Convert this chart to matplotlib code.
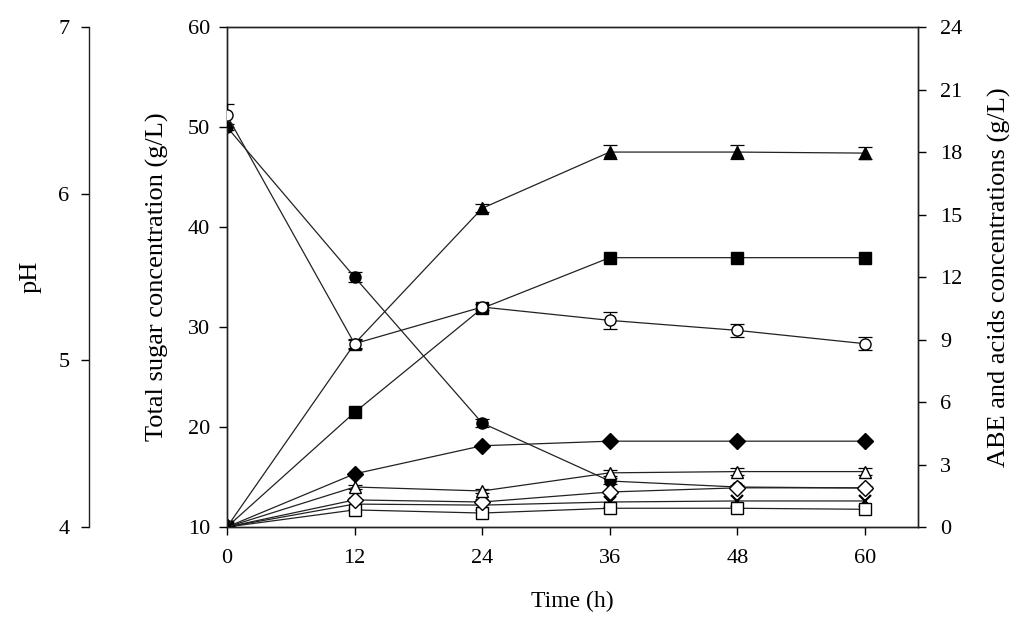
import numpy as np
import matplotlib
matplotlib.use("Agg")
import matplotlib.pyplot as plt

plt.rcParams['font.family'] = ['Liberation Serif', 'DejaVu Serif']

# sampling times (h)
time = [0, 12, 24, 36, 48, 60]

# left axis: total sugar (g/L), filled circles
sugar = [50.0, 35.0, 20.4, 14.6, 14.0, 13.9]
sugar_err = [0.3, 0.5, 0.4, 0.3, 0.2, 0.2]

# outer left axis: pH, open circles
ph = [6.47, 5.10, 5.32, 5.24, 5.18, 5.10]
ph_err = [0.07, 0.03, 0.02, 0.05, 0.04, 0.04]

# right axis: ABE and acids (g/L)
abe = [0, 8.8, 15.3, 18.0, 18.0, 17.95]
abe_err = [0, 0.2, 0.2, 0.35, 0.35, 0.3]
butanol = [0, 5.5, 10.5, 12.93, 12.93, 12.93]
acetone = [0, 2.55, 3.9, 4.12, 4.12, 4.12]
total_acids = [0, 1.92, 1.73, 2.6, 2.66, 2.66]
acids_err = [0, 0.1, 0.1, 0.15, 0.15, 0.15]
butyric = [0, 1.3, 1.2, 1.68, 1.88, 1.88]
acetic = [0, 1.1, 1.05, 1.2, 1.25, 1.25]
ethanol = [0, 0.82, 0.67, 0.9, 0.9, 0.85]

line_kw = dict(color='#222222', linewidth=0.9)
err_kw = dict(capsize=5, elinewidth=0.9, capthick=0.9, ecolor='black')

fig = plt.figure(figsize=(10.28, 6.3), dpi=100)
ax = fig.add_axes([0.2208, 0.1635, 0.6722, 0.7935])
ax_r = ax.twinx()
ax_ph = ax.twinx()

# sugar
ax.errorbar(time, sugar, yerr=sugar_err, marker='o', ms=8, mfc='black', mec='black',
            **err_kw, **line_kw)
ax.set_xlim(0, 65)
ax.set_ylim(10, 60)
ax.set_yticks(np.arange(10, 61, 10))
ax.set_xticks(time)
ax.set_xlabel('Time (h)', fontsize=17, labelpad=16)
ax.set_ylabel('Total sugar concentration (g/L)', fontsize=19, labelpad=14)

# ABE and acids
ax_r.plot(time, acetic, marker='x', ms=8, mec='black', mew=1.6, **line_kw)
ax_r.plot(time, ethanol, marker='s', ms=8.5, mfc='white', mec='black', **line_kw)
ax_r.plot(time, butyric, marker='D', ms=8, mfc='white', mec='black', **line_kw)
ax_r.errorbar(time, total_acids, yerr=acids_err, marker='^', ms=9,
              mfc='white', mec='black', **err_kw, **line_kw)
ax_r.plot(time, acetone, marker='D', ms=8, mfc='black', mec='black', **line_kw)
ax_r.plot(time, butanol, marker='s', ms=8.5, mfc='black', mec='black', **line_kw)
ax_r.errorbar(time, abe, yerr=abe_err, marker='^', ms=9, mfc='black', mec='black',
              **err_kw, **line_kw)
ax_r.set_ylim(0, 24)
ax_r.set_yticks(np.arange(0, 25, 3))
ax_r.set_ylabel('ABE and acids concentrations (g/L)', fontsize=19, labelpad=18)

# pH on a detached left spine
ax_ph.errorbar(time, ph, yerr=ph_err, marker='o', ms=8, mfc='white', mec='black',
               **err_kw, **line_kw)
ax_ph.set_ylim(4, 7)
ax_ph.set_yticks([4, 5, 6, 7])
for s in ['right', 'top', 'bottom']:
    ax_ph.spines[s].set_visible(False)
ax_ph.spines['left'].set_visible(True)
ax_ph.spines['left'].set_position(('axes', -0.2))
ax_ph.yaxis.set_ticks_position('left')
ax_ph.yaxis.set_label_position('left')
ax_ph.set_ylabel('pH', fontsize=19)
ax_ph.yaxis.set_label_coords(-0.268, 0.5)

for a in (ax, ax_r, ax_ph):
    a.tick_params(direction='out', length=6, width=1, labelsize=16)
    for s in a.spines.values():
        s.set_linewidth(1)
        s.set_color('#222222')
ax.tick_params(axis='x', pad=10)
ax.tick_params(axis='y', pad=6)
ax_r.tick_params(axis='y', pad=10)
ax_ph.tick_params(axis='y', pad=8)

fig.savefig('out.png', dpi=100)
